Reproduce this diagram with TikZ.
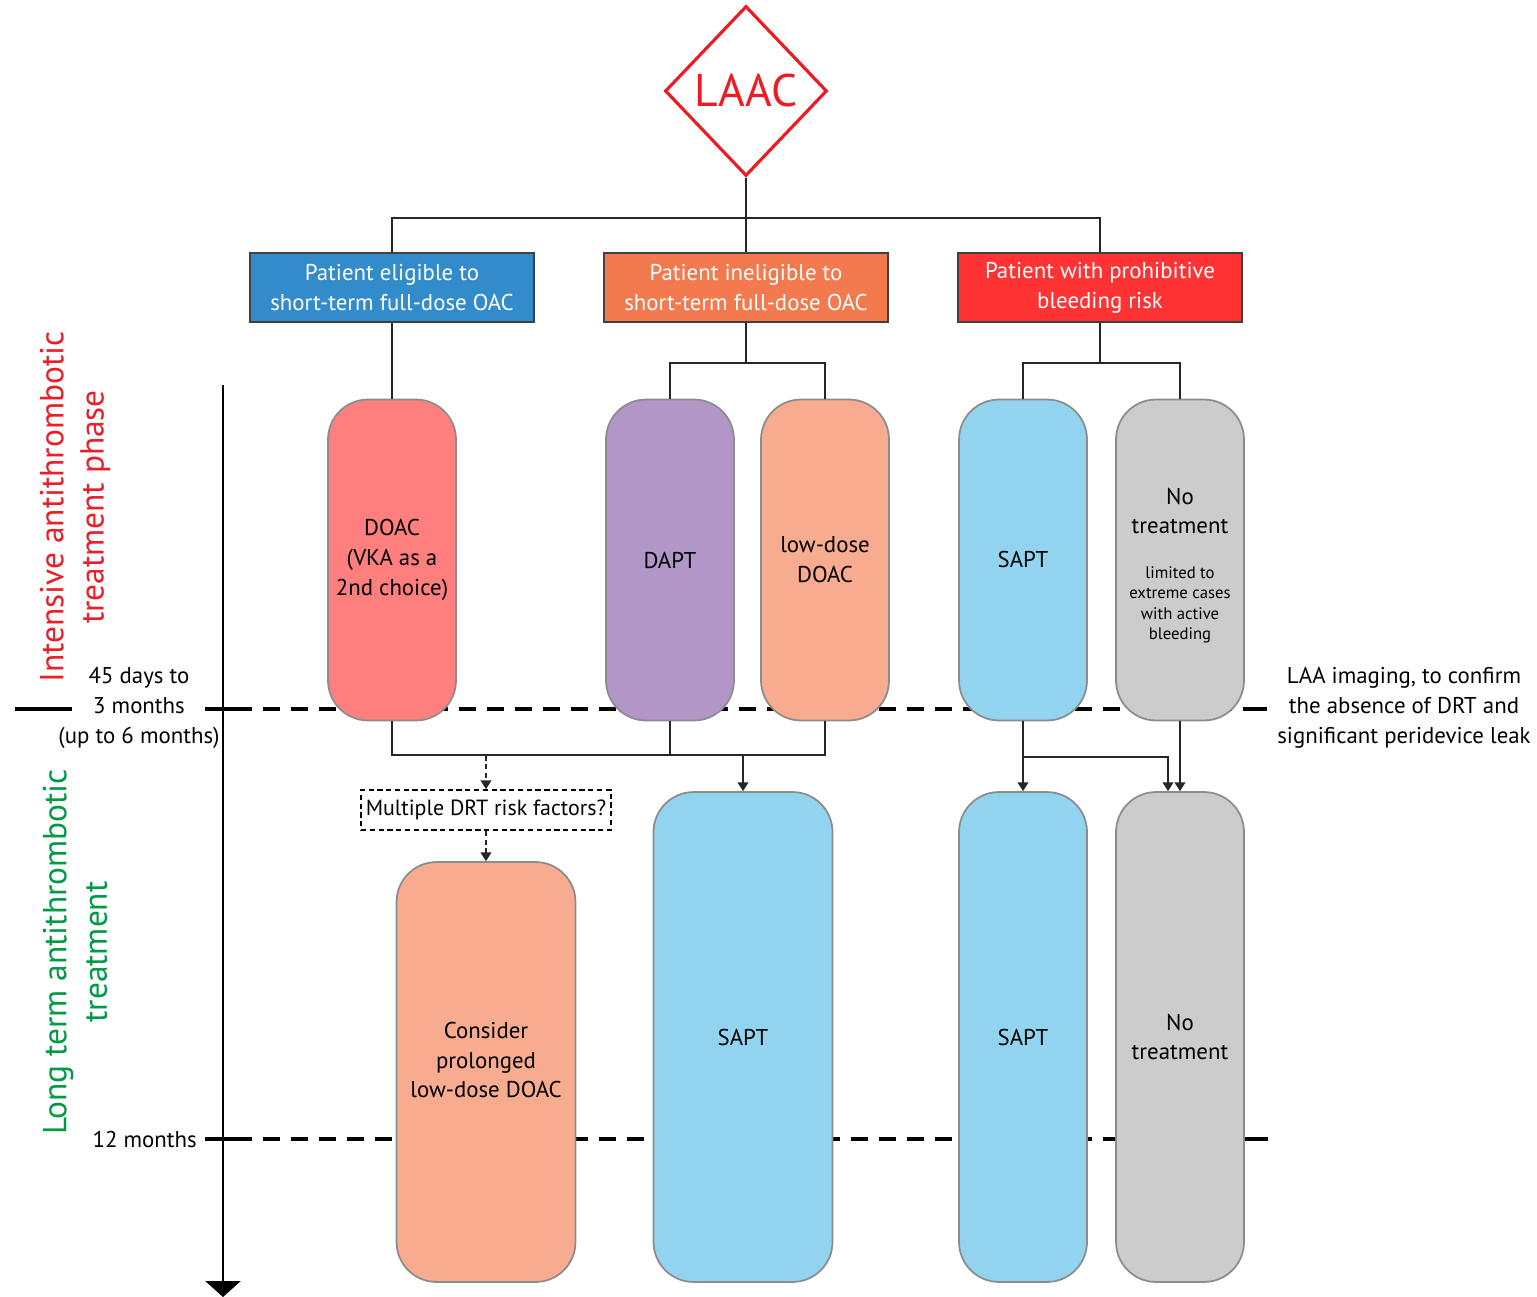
\documentclass[tikz,border=0pt]{standalone}
\usepackage{fontspec}
\setmainfont{PT Sans}
\usetikzlibrary{arrows.meta, positioning, shapes.geometric}

\definecolor{laacred}{RGB}{237,28,36}
\definecolor{topblue}{RGB}{50,139,202}
\definecolor{toporange}{RGB}{242,122,78}
\definecolor{topred}{RGB}{255,51,51}
\definecolor{doacred}{RGB}{255,127,127}
\definecolor{daptpurple}{RGB}{177,150,199}
\definecolor{salmon}{RGB}{247,171,143}
\definecolor{saptblue}{RGB}{146,212,240}
\definecolor{nogray}{RGB}{204,204,204}
\definecolor{phasered}{RGB}{232,30,40}
\definecolor{phasegreen}{RGB}{0,153,68}

\begin{document}
\begin{tikzpicture}[
  x=0.02cm, y=-0.02cm,
  headbox/.style={draw=black!75, line width=1pt, text=white, minimum width=5.68cm, minimum height=1.38cm, align=center, font=\fontsize{13}{17}\selectfont},
  drugbox/.style={draw=black!45, line width=1pt, rounded corners=0.8cm, minimum width=2.56cm, align=center, font=\fontsize{13}{17}\selectfont},
  phasebox/.style={minimum height=6.42cm},
  longbox/.style={minimum height=9.8cm},
  link/.style={draw=black!85, line width=1.1pt},
  arr/.style={link, -{Triangle[width=6pt,length=5pt]}},
  dotarr/.style={arr, densely dashed},
  timeline/.style={line width=1.7pt, -{Triangle[width=0.7cm,length=0.32cm]}},
  levelline/.style={line width=2pt, dash pattern=on 0.34cm off 0.22cm},
  tickline/.style={line width=2pt},
  sidenote/.style={align=center, font=\fontsize{13}{17}\selectfont},
  phasetitle/.style={rotate=90, align=center, font=\fontsize{19}{23}\selectfont}
]
\useasboundingbox (0,0) rectangle (1537,1297);

\draw[levelline] (235,709) -- (1267,709);
\draw[levelline] (235,1139) -- (1268,1139);
\draw[tickline] (15,709) -- (72,709);
\draw[tickline] (205,709) -- (235,709);
\draw[tickline] (205,1139) -- (235,1139);
\draw[tickline] (1244,709) -- (1267,709);
\draw[tickline] (1250,1139) -- (1268,1139);
\coordinate (tstart) at (223,385);
\coordinate (tend) at (223,1297);
\draw[timeline] (tstart) -- (tend);

\node[diamond, draw=laacred, line width=1.8pt, fill=white, minimum width=3.24cm, minimum height=3.4cm, inner sep=0pt, text=laacred, font=\fontsize{26}{30}\selectfont] (laac) at (746,91) {LAAC};

\node[headbox, fill=topblue] (eligible) at (392,287.5) {Patient eligible to\\short-term full-dose OAC};
\node[headbox, fill=toporange] (inelig) at (746,287.5) {Patient ineligible to\\short-term full-dose OAC};
\node[headbox, fill=topred] (prohib) at (1100,287.5) {Patient with prohibitive\\bleeding risk};

\node[drugbox, phasebox, fill=doacred] (doac) at (392,560) {DOAC\\(VKA as a\\2nd choice)};
\node[drugbox, phasebox, fill=daptpurple] (dapt) at (670,560) {DAPT};
\node[drugbox, phasebox, fill=salmon] (lowdose) at (825,560) {low-dose\\DOAC};
\node[drugbox, phasebox, fill=saptblue] (sapt) at (1023,560) {SAPT};
\node[drugbox, phasebox, fill=nogray] (notreat) at (1180,560) {};
\node[sidenote] (ntmain) at (1180,511) {No\\treatment};
\node[align=center, font=\fontsize{9.5}{11.6}\selectfont] (ntsmall) at (1180,605) {limited to\\extreme cases\\with active\\bleeding};

\node[draw, densely dashed, line width=0.9pt, inner xsep=2pt, minimum width=5cm, minimum height=0.8cm, font=\fontsize{12.5}{17}\selectfont] (drt) at (486,810) {Multiple DRT risk factors?};

\node[drugbox, minimum width=3.58cm, minimum height=8.4cm, fill=salmon] (consider) at (486,1072) {};
\node[sidenote] (considertext) at (486,1060) {Consider\\prolonged\\low-dose DOAC};
\node[drugbox, longbox, minimum width=3.58cm, fill=saptblue] (sapt2) at (743,1037) {SAPT};
\node[drugbox, longbox, fill=saptblue] (sapt3) at (1023,1037) {SAPT};
\node[drugbox, longbox, fill=nogray] (notreat2) at (1180,1037) {No\\treatment};

\node[sidenote] (firstlevel) at (139,708) {45 days to\\3 months\\(up to 6 months)};
\node[sidenote, anchor=east] (secondlevel) at (203,1139) {12 months};
\node[sidenote] (imaging) at (1404,708) {LAA imaging, to confirm\\the absence of DRT and\\significant peridevice leak};

\node[phasetitle, text=phasered] (intensive) at (75,507) {Intensive antithrombotic\\treatment phase};
\node[phasetitle, text=phasegreen] (longterm) at (75,952) {Long term antithrombotic\\treatment};

\coordinate (split) at (746,218);
\draw[link] (laac.south) -- (inelig.north);
\draw[link] (eligible.north) |- (split) -| (prohib.north);
\draw[link] (eligible.south) -- (doac.north);
\draw[link] (inelig.south) -- ++(0,40) coordinate (fork2);
\draw[link] (dapt.north) |- (fork2) -| (lowdose.north);
\draw[link] (prohib.south) -- ++(0,40) coordinate (fork3);
\draw[link] (sapt.north) |- (fork3) -| (notreat.north);

\draw[link] (doac.south) -- ++(0,34) coordinate (join1) -| (lowdose.south);
\draw[link] (dapt.south) -- (dapt.south |- join1);
\draw[arr] (sapt2.north |- join1) -- (sapt2.north);
\draw[dotarr] (drt.north |- join1) -- (drt.north);
\draw[dotarr] (drt.south) -- (consider.north);
\draw[arr] (sapt.south) -- (sapt3.north);
\draw[arr] (sapt.south) ++(0,36) -| ([xshift=-0.24cm]notreat2.north);
\draw[arr] (notreat.south) -- (notreat2.north);
\end{tikzpicture}
\end{document}
